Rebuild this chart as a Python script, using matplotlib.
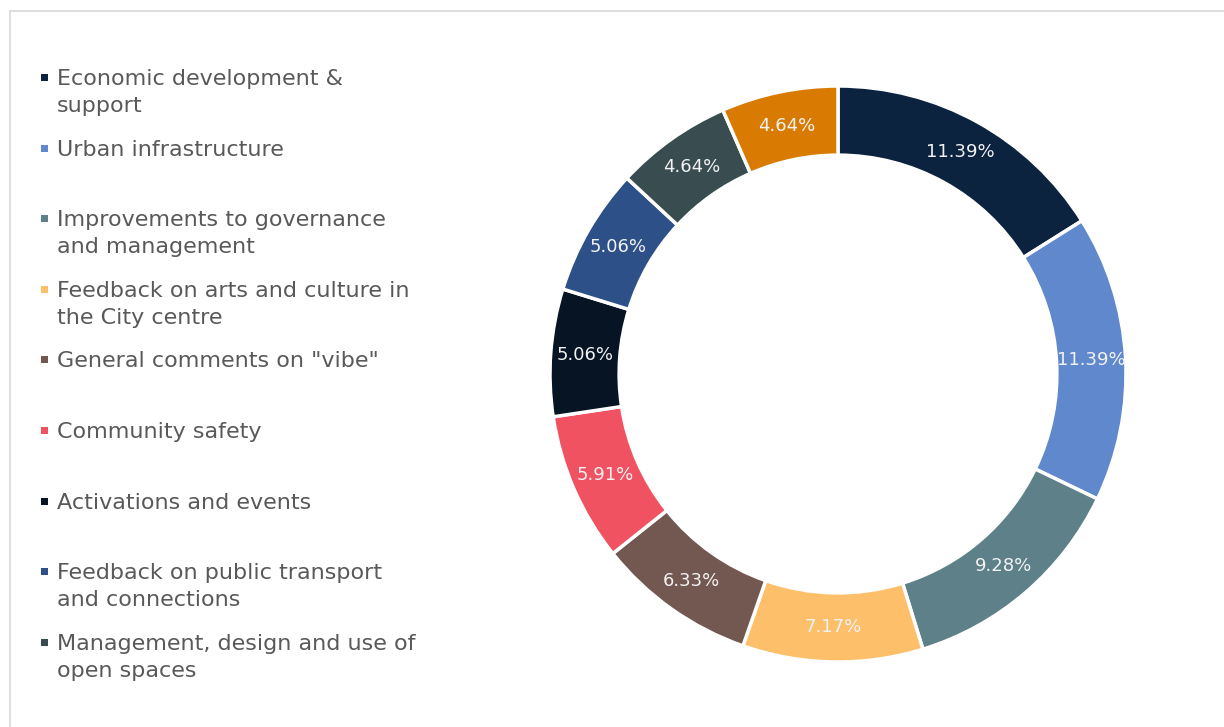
import numpy as np
import matplotlib.pyplot as plt
from matplotlib.lines import Line2D
from matplotlib.patches import Rectangle

# share of comments by theme
themes = [
    'Economic development &\nsupport',
    'Urban infrastructure',
    'Improvements to governance\nand management',
    'Feedback on arts and culture in\nthe City centre',
    'General comments on "vibe"',
    'Community safety',
    'Activations and events',
    'Feedback on public transport\nand connections',
    'Management, design and use of\nopen spaces',
    'Other',
]
shares = [11.39, 11.39, 9.28, 7.17, 6.33, 5.91, 5.06, 5.06, 4.64, 4.64]
colors = ['#0c2340', '#6088cc', '#5e8088', '#fdbf6a', '#735751',
          '#f05261', '#061423', '#2e5089', '#394c50', '#d97b02']
n_legend = 9  # the last theme doesn't fit in the legend box

W, H = 1224, 727
fig = plt.figure(figsize=(W / 100, H / 100), dpi=100)

# donut, centre (838, 374) px, outer radius 288 px
cx, cy, r = 838, 374, 288
pad = 1.05
half = r * pad
ax = fig.add_axes([(cx - half) / W, (H - cy - half) / H, 2 * half / W, 2 * half / H])
wedges, _ = ax.pie(shares, colors=colors, startangle=90, counterclock=False,
                   radius=1, wedgeprops=dict(width=0.24, edgecolor='white', linewidth=2.5))
ax.set_xlim(-pad, pad)
ax.set_ylim(-pad, pad)
ax.set_aspect('equal')

total = sum(shares)
ang = 90.0
for v in shares:
    span = 360.0 * v / total
    mid = np.deg2rad(ang - span / 2)
    ax.text(0.88 * np.cos(mid), 0.88 * np.sin(mid), f'{v:.2f}%',
            ha='center', va='center', color='#f2f2f2', fontsize=13)
    ang -= span

# overlay in pixel coordinates for legend and frame
lax = fig.add_axes([0, 0, 1, 1])
lax.set_xlim(0, W)
lax.set_ylim(H, 0)
lax.axis('off')
lax.set_zorder(-1)

lax.add_line(Line2D([10, W + 5], [11, 11], color='#d9d9d9', lw=1.2))
lax.add_line(Line2D([10, 10], [11, H + 5], color='#d9d9d9', lw=1.2))

y0, step, line_h = 77.5, 70.6, 27
for i in range(n_legend):
    y = y0 + i * step
    lax.add_patch(Rectangle((40.5, y - 3.5), 7, 7, color=colors[i], lw=0))
    for k, line in enumerate(themes[i].split('\n')):
        lax.text(57, y + 7.5 + k * line_h, line, ha='left', va='baseline',
                 color='#595959', fontsize=16)

fig.savefig('out.png', dpi=100, facecolor='white')
